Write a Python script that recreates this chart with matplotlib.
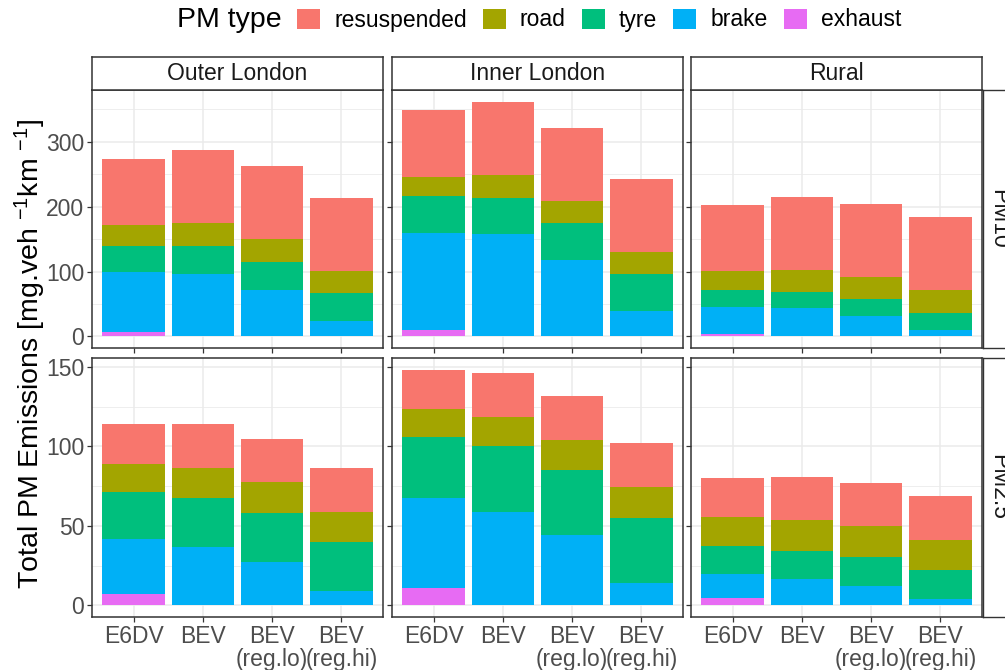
import numpy as np
import matplotlib.pyplot as plt
from matplotlib.patches import Patch

plt.rcParams['font.family'] = ['Liberation Sans', 'DejaVu Sans']
plt.rcParams['mathtext.fontset'] = 'custom'
plt.rcParams['mathtext.rm'] = 'Liberation Sans'
plt.rcParams['mathtext.it'] = 'Liberation Sans'

areas = ["Outer London", "Inner London", "Rural"]
vehicles = ["E6DV", "BEV", "BEV\n(reg.lo)", "BEV\n(reg.hi)"]
pm_sizes = ["PM10", "PM2.5"]
pm_types = ["resuspended", "road", "tyre", "brake", "exhaust"]
colors = ["#F8766D", "#A3A500", "#00BF7D", "#00B0F6", "#E76BF3"]

# rows = Outer London, Inner London, Rural ; columns = vehicles
exhaust_pm10 = [[6, 0, 0, 0], [9.7, 0, 0, 0], [3.6, 0, 0, 0]]
brake_pm10 = [[93.5, 96.5, 72, 23], [150.3, 157.7, 117, 39], [42.4, 43.4, 31.6, 10.2]]
tyre_pm10 = [[39.5, 42.5, 43, 44], [56, 56.3, 58, 56.4], [25, 25.6, 26.1, 25.8]]
road_pm10 = [[33, 36, 35.5, 34.5], [30, 35.5, 34, 34.6], [30.5, 34, 34.3, 36]]
resusp_pm10 = [[102, 112, 111.5, 112.5], [102.5, 112.5, 112, 113], [101.5, 112, 112.6, 111.7]]

exhaust_pm25 = [[6.9, 0, 0, 0], [10.7, 0, 0, 0], [4.6, 0, 0, 0]]
brake_pm25 = [[35.1, 36.7, 27.5, 9], [56.6, 59, 44.5, 14.3], [15.1, 16.8, 12.2, 4.2]]
tyre_pm25 = [[29.5, 30.6, 30.5, 30.6], [38.7, 41, 40.5, 40.9], [17.8, 17.6, 18.4, 17.8]]
road_pm25 = [[17.5, 18.9, 19.4, 19.4], [17.6, 18.5, 19.3, 19.5], [17.9, 19.3, 19.1, 19.3]]
resusp_pm25 = [[25, 27.8, 27.3, 27.4], [24.7, 27.7, 27.2, 27.3], [24.6, 27.3, 27.1, 27.3]]

stacks = {
    "PM10": [exhaust_pm10, brake_pm10, tyre_pm10, road_pm10, resusp_pm10],
    "PM2.5": [exhaust_pm25, brake_pm25, tyre_pm25, road_pm25, resusp_pm25],
}
stack_colors = colors[::-1]  # exhaust at bottom
ylims = {"PM10": (-18, 380), "PM2.5": (-7.4, 155.7)}
major = {"PM10": [0, 100, 200, 300], "PM2.5": [0, 50, 100, 150]}
minor = {"PM10": [50, 150, 250, 350], "PM2.5": [25, 75, 125]}

W, H = 1005, 670
fig = plt.figure(figsize=(W / 100, H / 100), dpi=100)

col_x = [92, 392, 691]
col_w = 291
row_y = [(90, 348), (358, 617)]
grey20 = "#333333"
grey30 = "#4D4D4D"
gridc = "#EBEBEB"


def fx(px):
    return px / W


def fy(py):
    return 1 - py / H


x = np.arange(len(vehicles))
for r, size in enumerate(pm_sizes):
    top, bot = row_y[r]
    for c, area in enumerate(areas):
        ax = fig.add_axes([fx(col_x[c]), fy(bot), fx(col_w), (bot - top) / H])
        bottom = np.zeros(len(vehicles))
        for comp, colr in zip(stacks[size], stack_colors):
            vals = np.array(comp[c])
            ax.bar(x, vals, width=0.9, bottom=bottom, color=colr, zorder=2)
            bottom += vals
        ax.set_xlim(-0.6, 3.6)
        ax.set_ylim(*ylims[size])
        ax.set_yticks(major[size])
        ax.set_yticks(minor[size], minor=True)
        ax.set_xticks(x)
        ax.grid(True, which="major", color=gridc, lw=1.1, zorder=0)
        ax.grid(True, which="minor", axis="y", color=gridc, lw=0.6, zorder=0)
        ax.set_axisbelow(True)
        for s in ax.spines.values():
            s.set_color(grey20)
            s.set_linewidth(1.1)
        ax.tick_params(which="major", length=3.5, width=0.9, color=grey20,
                       labelcolor=grey30, labelsize=16.5, pad=2)
        ax.tick_params(which="minor", length=0)
        if c == 0:
            ax.set_yticklabels([str(v) for v in major[size]])
        else:
            ax.tick_params(axis="y", labelleft=False)
        if r == 1:
            ax.set_xticklabels(vehicles, linespacing=1.0)
        else:
            ax.tick_params(axis="x", labelbottom=False)

        if r == 0:
            sax = fig.add_axes([fx(col_x[c]), fy(90), fx(col_w), 33 / H])
            sax.set_xticks([])
            sax.set_yticks([])
            for s in sax.spines.values():
                s.set_color(grey20)
                s.set_linewidth(1.1)
            sax.text(0.5, 0.5, area, ha="center", va="center", fontsize=16.5,
                     color="#1A1A1A", transform=sax.transAxes)

    # right strip, cut by the figure edge
    rax = fig.add_axes([fx(983), fy(bot), 35 / W, (bot - top) / H])
    rax.set_xticks([])
    rax.set_yticks([])
    for s in rax.spines.values():
        s.set_color(grey20)
        s.set_linewidth(1.0)
    rax.text(0.46, 0.5, size, ha="center", va="center", rotation=-90,
             fontsize=16.5, color="#1A1A1A", transform=rax.transAxes)

fig.text(fx(30), fy((90 + 617) / 2),
         r"Total PM Emissions [mg.veh $^{-1}$km $^{-1}$]",
         rotation=90, ha="center", va="center", fontsize=20.5)

fig.text(fx(177), fy(20), "PM type", ha="left", va="center", fontsize=20.5)
handles = [Patch(facecolor=col, edgecolor="none") for col in colors]
fig.legend(handles, pm_types, loc="center left", bbox_to_anchor=(fx(297), fy(20)),
           ncol=5, frameon=False, fontsize=16.5, handlelength=1.0, handleheight=0.95,
           handletextpad=0.62, columnspacing=0.7, borderaxespad=0, borderpad=0)

fig.savefig("out.png", dpi=100)
